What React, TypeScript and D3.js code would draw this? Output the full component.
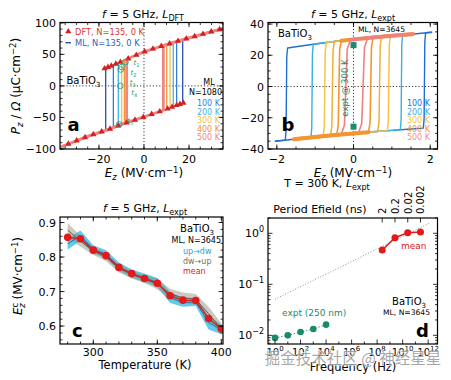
import React from 'react';
import * as d3 from 'd3';

const FONT = "'DejaVu Sans', sans-serif";

// ---------------- Panel a (L_DFT) ----------------
const upperAE = [-20, -15, -10, -5, 0, 5, 10, 15, 20, 25, 30, 35, 37];
const upperAP = [24, 31, 38.6, 46.5, 54, 60, 65.5, 71, 76, 81, 86, 91, 93];
const lowerAE = [-37, -35, -30, -25, -20, -15, -10, -5, 0, 5, 10, 15, 20];
const lowerAP = [-97, -94, -87, -80, -74, -68, -61, -55, -49, -43, -37, -30, -24];
const loopAName = ['ML, N=135, 0 K', '100 K', '200 K', '300 K', '400 K', '500 K'];
const loopAEcLeft = [-17, -13.6, -11.4, -9.9, -8.7, -7.7];
const loopAEcRight = [17.2, 14.5, 13, 11.6, 10.1, 8.6];
const loopAColor = ['#2c4fb0', '#2f7fd6', '#40b4e6', '#f2c24a', '#f39436', '#ef8585'];
const loopAWidth = [1.3, 1.3, 1.3, 1.3, 1.3, 2.8];
const dftUpE = [-17.5, -16, -14.5, -12.5, -10.5, -7, -3.4, 0.3, 4, 7.7, 11.4, 15.1, 18.8, 22.5, 26.2, 29.9, 33.6];
const dftUpP = [27.5, 29.6, 31.8, 34.8, 37.8, 43.3, 48.9, 54.4, 58.8, 63, 67, 71.1, 74.8, 78.5, 82.2, 85.9, 89.6];
const dftLowE = [-33.6, -29.9, -26.2, -22.5, -18.8, -15.1, -11.4, -7.7, -4, -0.3, 3.4, 7, 10.5, 12.5, 14.5, 16, 17.5];
const dftLowP = [-92, -86.9, -81.7, -77, -72.6, -68.1, -63, -58.2, -53.8, -49.4, -44.9, -40.6, -36.3, -33.5, -30.7, -28.8, -27];
const snapE = [-8.2, -10, -10.3, -10.5, -11];
const snapP = [38, 30, 26, 0, -61];
const snapName = ['1', '2', '3', '4', '5'];
const snapLabelOffset = [[8, 3], [9, 8], [9, 15], [11, 9], [8, -1]];
const tempLegendA = ['100 K', '200 K', '300 K', '400 K', '500 K'];

// ---------------- Panel b (L_expt) ----------------
const upperBE = [-1.9, -1.5, -1, -0.5, 0, 0.5, 1, 1.5, 2.05];
const upperBP = [24, 25.5, 27.2, 28.8, 30.2, 31.4, 32.5, 33.5, 34.8];
const lowerBE = [-2.05, -1.5, -1, -0.5, 0, 0.5, 1, 1.5, 1.9];
const lowerBP = [-35, -33.6, -32.3, -31.1, -30, -29, -28.1, -27.2, -26.5];
const loopBEcLeft = [-1.75, -1.08, -0.75, -0.55, -0.38, -0.2];
const loopBEcRight = [1.85, 1.25, 0.92, 0.68, 0.45, 0.25];
const loopBEmax = [2.05, 1.55, 1.55, 1.55, 1.55, 1.55];
const loopBSoft = [0.03, 0.03, 0.04, 0.05, 0.06, 0.12];
const loopBColor = ['#1f6fd1', '#36b0e2', '#f4c446', '#f3ad3a', '#f4952e', '#f08080'];
const loopBWidth = [1.4, 1.4, 1.5, 1.5, 1.6, 1.6];
const loopBThick = [0, 0, 0, 0, 4, 3.4];
const tempLegendB = ['100 K', '200 K', '300 K', '400 K', '500 K'];
const tempLegendBColor = ['#1f6fd1', '#36b0e2', '#f4c446', '#f4952e', '#f08a90'];
const exptE = [0, 0];
const exptP = [26.5, -25.7];

// ---------------- Panel c ----------------
const temps = [280, 290, 300, 310, 320, 330, 340, 350, 360, 370, 380, 390, 400];
const upDw = [0.838, 0.862, 0.822, 0.808, 0.772, 0.752, 0.740, 0.726, 0.683, 0.668, 0.670, 0.610, 0.590];
const upDwErr = [0.016, 0.015, 0.012, 0.012, 0.012, 0.012, 0.012, 0.013, 0.016, 0.012, 0.012, 0.02, 0.014];
const dwUp = [0.878, 0.846, 0.818, 0.800, 0.767, 0.750, 0.736, 0.722, 0.693, 0.682, 0.678, 0.636, 0.592];
const dwUpErr = [0.02, 0.016, 0.012, 0.012, 0.012, 0.012, 0.012, 0.015, 0.015, 0.015, 0.015, 0.02, 0.016];
const meanEc = [0.857, 0.853, 0.820, 0.804, 0.770, 0.752, 0.738, 0.724, 0.688, 0.675, 0.674, 0.622, 0.592];

// ---------------- Panel d ----------------
const mlFreq = [2.5e8, 2.5e9, 2.5e10, 2.5e11];
const mlEc = [0.47, 0.82, 1.03, 1.06];
const exptFreq = [1, 10, 100, 1000, 10000];
const exptEc = [0.0089, 0.0100, 0.0116, 0.0133, 0.0162];
const fitFreq = [1, 1.2e12];
const fitEc = [0.051, 1.57];
const periodNs = [2, 0.2, 0.02, 0.002];
const periodLabel = ['2', '0.2', '0.02', '0.002'];

type Pt = [number, number];

function interp(xs: number[], ys: number[], x: number) {
  const n = xs.length;
  if (x <= xs[0]) return ys[0] + (ys[1] - ys[0]) * (x - xs[0]) / (xs[1] - xs[0]);
  for (let i = 1; i < n; i++) {
    if (x <= xs[i]) {
      const t = (x - xs[i - 1]) / (xs[i] - xs[i - 1]);
      return ys[i - 1] + t * (ys[i] - ys[i - 1]);
    }
  }
  return ys[n - 1] + (ys[n - 1] - ys[n - 2]) * (x - xs[n - 1]) / (xs[n - 1] - xs[n - 2]);
}

function loopPoints(upE: number[], upP: number[], loE: number[], loP: number[], ecL: number, ecR: number, emax: number, soft: number): Pt[][] {
  const up = (e: number) => interp(upE, upP, e);
  const lo = (e: number) => interp(loE, loP, e);
  const d: Pt[] = [[emax, up(emax)]];
  for (let i = upE.length - 1; i >= 0; i--) if (upE[i] < emax && upE[i] > ecL + soft) d.push([upE[i], upP[i]]);
  {
    const pu = up(ecL + soft), pl = lo(ecL - soft), h = pu - pl;
    if (soft > 0) {
      d.push([ecL + soft, pu], [ecL + soft * 0.3, pu - h * 0.1], [ecL, (pu + pl) / 2], [ecL - soft * 0.3, pl + h * 0.1], [ecL - soft, pl]);
    } else {
      d.push([ecL, pu], [ecL, pl]);
    }
  }
  for (let i = loE.length - 1; i >= 0; i--) if (loE[i] < ecL - soft && loE[i] > -emax) d.push([loE[i], loP[i]]);
  d.push([-emax, lo(-emax)]);

  const a: Pt[] = [[-emax, lo(-emax)]];
  for (let i = 0; i < loE.length; i++) if (loE[i] > -emax && loE[i] < ecR - soft) a.push([loE[i], loP[i]]);
  {
    const pl = lo(ecR - soft), pu = up(ecR + soft), h = pu - pl;
    if (soft > 0) {
      a.push([ecR - soft, pl], [ecR - soft * 0.3, pl + h * 0.1], [ecR, (pu + pl) / 2], [ecR + soft * 0.3, pu - h * 0.1], [ecR + soft, pu]);
    } else {
      a.push([ecR, pl], [ecR, pu]);
    }
  }
  for (let i = 0; i < upE.length; i++) if (upE[i] > ecR + soft && upE[i] < emax) a.push([upE[i], upP[i]]);
  a.push([emax, up(emax)]);
  return [d, a];
}

function branchSeg(E: number[], P: number[], from: number, to: number): Pt[] {
  const pts: Pt[] = [[from, interp(E, P, from)]];
  for (let i = 0; i < E.length; i++) if (E[i] > from && E[i] < to) pts.push([E[i], P[i]]);
  pts.push([to, interp(E, P, to)]);
  return pts;
}

type Box = { x0: number; x1: number; y0: number; y1: number };

function tickPath(box: Box, xs: (v: number) => number, ys: (v: number) => number,
  xMaj: number[], xMin: number[], yMaj: number[], yMin: number[], topX = true) {
  const L = 4.5, l = 2.5;
  let p = '';
  const addX = (v: number, len: number) => {
    const px = xs(v);
    if (px < box.x0 - 0.5 || px > box.x1 + 0.5) return;
    p += `M${px},${box.y1}v${-len}`;
    if (topX) p += `M${px},${box.y0}v${len}`;
  };
  const addY = (v: number, len: number) => {
    const py = ys(v);
    if (py < box.y0 - 0.5 || py > box.y1 + 0.5) return;
    p += `M${box.x0},${py}h${len}M${box.x1},${py}h${-len}`;
  };
  xMaj.forEach(v => addX(v, L));
  xMin.forEach(v => addX(v, l));
  yMaj.forEach(v => addY(v, L));
  yMin.forEach(v => addY(v, l));
  return p;
}

const minus = (s: string) => s.replace('-', '\u2212');

export default function App() {
  // ---- boxes ----
  const bA: Box = { x0: 60, x1: 223, y0: 22.5, y1: 149 };
  const bB: Box = { x0: 268, x1: 437.5, y0: 22.5, y1: 149 };
  const bC: Box = { x0: 60, x1: 223, y0: 217, y1: 344 };
  const bD: Box = { x0: 268, x1: 437.5, y0: 218, y1: 344 };

  const ax = d3.scaleLinear().domain([-37.3, 35.1]).range([bA.x0, bA.x1]);
  const ay = d3.scaleLinear().domain([-100, 100.5]).range([bA.y1, bA.y0]);
  const bx = d3.scaleLinear().domain([-2.23, 2.19]).range([bB.x0, bB.x1]);
  const by = d3.scaleLinear().domain([-40, 41]).range([bB.y1, bB.y0]);
  const cx = d3.scaleLinear().domain([274, 401.3]).range([bC.x0, bC.x1]);
  const cy = d3.scaleLinear().domain([0.548, 0.916]).range([bC.y1, bC.y0]);
  const dx = d3.scaleLog().domain([Math.pow(10, -0.55), Math.pow(10, 12.73)]).range([bD.x0, bD.x1]);
  const dy = d3.scaleLog().domain([Math.pow(10, -2.17), Math.pow(10, 0.3)]).range([bD.y1, bD.y0]);

  const lineA = d3.line<Pt>().x(d => ax(d[0])).y(d => ay(d[1]));
  const lineB = d3.line<Pt>().x(d => bx(d[0])).y(d => by(d[1]));

  const loopsA = loopAEcLeft.map((ecL, i) => loopPoints(upperAE, upperAP, lowerAE, lowerAP, ecL, loopAEcRight[i], 37, 0));
  const loopsB = loopBEcLeft.map((ecL, i) => loopPoints(upperBE, upperBP, lowerBE, lowerBP, ecL, loopBEcRight[i], loopBEmax[i], loopBSoft[i]));

  const areaC = (vals: number[], err: number[]) => d3.area<number>()
    .x((_, i) => cx(temps[i])).y0((v, i) => cy(v - err[i])).y1((v, i) => cy(v + err[i]))(vals) || '';
  const lineC = (vals: number[]) => d3.line<number>().x((_, i) => cx(temps[i])).y(v => cy(v))(vals) || '';

  const dLine = d3.line<number>();

  const decades = [1, 1e2, 1e4, 1e6, 1e8, 1e10, 1e12];
  const decadeExp = ['0', '2', '4', '6', '8', '10', '12'];
  const oddDecades = [10, 1e3, 1e5, 1e7, 1e9, 1e11];
  const yMinD: number[] = [];
  [0.001, 0.01, 0.1, 1].forEach(b => [2, 3, 4, 5, 6, 7, 8, 9].forEach(k => yMinD.push(b * k)));

  const periodFreq = periodNs.map(p => 1 / (2 * p * 1e-9));

  const tri = d3.symbol(d3.symbolTriangle, 17)() || '';
  const tick = { stroke: '#000', strokeWidth: 0.8, fill: 'none' } as const;
  const frame = (b: Box) => <rect x={b.x0} y={b.y0} width={b.x1 - b.x0} height={b.y1 - b.y0} fill="none" stroke="#000" strokeWidth={1.2} />;

  return (
    <svg width={451} height={380} viewBox="0 0 451 380" style={{ position: 'absolute', left: 0, top: 0, background: '#fff' }} fontFamily={FONT}>
      <defs>
        <clipPath id="clipA"><rect x={bA.x0} y={bA.y0} width={bA.x1 - bA.x0} height={bA.y1 - bA.y0} /></clipPath>
        <clipPath id="clipB"><rect x={bB.x0} y={bB.y0} width={bB.x1 - bB.x0} height={bB.y1 - bB.y0} /></clipPath>
        <clipPath id="clipC"><rect x={bC.x0} y={bC.y0} width={bC.x1 - bC.x0} height={bC.y1 - bC.y0} /></clipPath>
        <clipPath id="clipD"><rect x={bD.x0} y={bD.y0} width={bD.x1 - bD.x0} height={bD.y1 - bD.y0} /></clipPath>
      </defs>
      <rect x={0} y={0} width={451} height={380} fill="#fff" />

      {/* ================= Panel a ================= */}
      <text x={143} y={18} textAnchor="middle" fontSize={11}>
        <tspan fontStyle="italic">f</tspan> = 5 GHz, <tspan fontStyle="italic">L</tspan><tspan dy={2.5} fontSize={8}>DFT</tspan>
      </text>
      <g clipPath="url(#clipA)">
        <line x1={ax(0)} x2={ax(0)} y1={bA.y0} y2={bA.y1} stroke="#000" strokeWidth={0.8} strokeDasharray="1.2,2" />
        <line x1={bA.x0} x2={bA.x1} y1={ay(0)} y2={ay(0)} stroke="#000" strokeWidth={0.8} strokeDasharray="1.2,2" />
        {loopsA.map((segs, i) => segs.map((s, j) => (
          <path key={`la${i}-${j}`} d={lineA(s) || ''} fill="none" stroke={loopAColor[i]} strokeWidth={loopAWidth[i]} strokeLinejoin="round" />
        )))}
        {dftUpE.map((e, i) => (
          <path key={`du${i}`} d={tri} transform={`translate(${ax(e)},${ay(dftUpP[i])})`} fill="#d42020" />
        ))}
        {dftLowE.map((e, i) => (
          <path key={`dl${i}`} d={tri} transform={`translate(${ax(e)},${ay(dftLowP[i])})`} fill="#d42020" />
        ))}
        {snapE.map((e, i) => (
          <g key={`sn${i}`}>
            <circle cx={ax(e)} cy={ay(snapP[i])} r={2.8} fill="none" stroke="#2f9a78" strokeWidth={0.9} />
            <text x={ax(e) + snapLabelOffset[i][0]} y={ay(snapP[i]) + snapLabelOffset[i][1]} fontSize={7} fill="#2f9a78">
              <tspan fontStyle="italic">t</tspan><tspan dy={2} fontSize={5}>{snapName[i]}</tspan>
            </text>
          </g>
        ))}
      </g>
      {frame(bA)}
      <path d={tickPath(bA, ax, ay, [-20, 0, 20], d3.range(-35, 36, 5), [-100, -50, 0, 50, 100], d3.range(-100, 101, 10))} {...tick} />
      {[-100, -50, 0, 50, 100].map(v => (
        <text key={`ayl${v}`} x={bA.x0 - 4} y={ay(v) + 4} textAnchor="end" fontSize={11}>{minus(String(v))}</text>
      ))}
      {[-20, 0, 20].map(v => (
        <text key={`axl${v}`} x={ax(v)} y={163} textAnchor="middle" fontSize={11}>{minus(String(v))}</text>
      ))}
      <text x={144} y={177} textAnchor="middle" fontSize={12}>
        <tspan fontStyle="italic">E</tspan><tspan dy={3} fontSize={8.5} fontStyle="italic">z</tspan><tspan dy={-3}> (MV·cm</tspan><tspan dy={-4.5} fontSize={8.5}>−1</tspan><tspan dy={4.5}>)</tspan>
      </text>
      <text transform="translate(20,86) rotate(-90)" textAnchor="middle" fontSize={12}>
        <tspan fontStyle="italic">P</tspan><tspan dy={3} fontSize={8.5} fontStyle="italic">z</tspan><tspan dy={-3}> / </tspan><tspan fontStyle="italic">Ω</tspan><tspan> (μC·cm</tspan><tspan dy={-4.5} fontSize={8.5}>−2</tspan><tspan dy={4.5}>)</tspan>
      </text>
      {/* legend a */}
      <path d={tri} transform="translate(68.3,31.5)" fill="#d42020" />
      <text x={75} y={34.5} fontSize={8.3} fill="#d43a3a">DFT, N=135, 0 K</text>
      <line x1={65.5} x2={71} y1={42.7} y2={42.7} stroke={loopAColor[0]} strokeWidth={1.4} />
      <text x={75} y={45.7} fontSize={8.3} fill="#3a5cc0">{loopAName[0]}</text>
      <text x={66.5} y={84} fontSize={10}>BaTiO<tspan dy={2.5} fontSize={7}>3</tspan></text>
      <text x={209} y={85.3} textAnchor="middle" fontSize={8}>ML</text>
      <text x={222} y={95.3} textAnchor="end" fontSize={8}>N=1080</text>
      {tempLegendA.map((t, i) => (
        <text key={`tla${i}`} x={220} y={106 + i * 8.6} textAnchor="end" fontSize={8} fill={loopAColor[i + 1]}>{t}</text>
      ))}
      <text x={67.5} y={131} fontSize={18} fontWeight="bold">a</text>

      {/* ================= Panel b ================= */}
      <text x={353} y={18} textAnchor="middle" fontSize={11}>
        <tspan fontStyle="italic">f</tspan> = 5 GHz, <tspan fontStyle="italic">L</tspan><tspan dy={2.5} fontSize={8}>expt</tspan>
      </text>
      <g clipPath="url(#clipB)">
        <line x1={bx(0)} x2={bx(0)} y1={bB.y0} y2={bB.y1} stroke="#000" strokeWidth={0.8} strokeDasharray="1.2,2" />
        <line x1={bB.x0} x2={bB.x1} y1={by(0)} y2={by(0)} stroke="#000" strokeWidth={0.8} strokeDasharray="1.2,2" />
        {loopsB.map((segs, i) => segs.map((s, j) => (
          <path key={`lb${i}-${j}`} d={lineB(s) || ''} fill="none" stroke={loopBColor[i]} strokeWidth={loopBWidth[i]} strokeLinejoin="round" />
        )))}
        {[5, 4].map(i => (
          <path key={`tbl${i}`} d={lineB(branchSeg(lowerBE, lowerBP, -loopBEmax[i], loopBEcRight[i] - loopBSoft[i])) || ''} fill="none" stroke={loopBColor[i]} strokeWidth={loopBThick[i]} strokeLinecap="round" />
        ))}
        {[4, 5].map(i => (
          <path key={`tbu${i}`} d={lineB(branchSeg(upperBE, upperBP, loopBEcLeft[i] + loopBSoft[i], loopBEmax[i])) || ''} fill="none" stroke={loopBColor[i]} strokeWidth={loopBThick[i]} strokeLinecap="round" />
        ))}
        {exptE.map((e, i) => (
          <rect key={`ex${i}`} x={bx(e) - 3} y={by(exptP[i]) - 3} width={6} height={6} fill="#1e8a6e" />
        ))}
      </g>
      {frame(bB)}
      <path d={tickPath(bB, bx, by, [-2, 0, 2], d3.range(-2, 2.01, 0.5), [-40, -20, 0, 20, 40], d3.range(-40, 41, 5))} {...tick} />
      {[-40, -20, 0, 20, 40].map(v => (
        <text key={`byl${v}`} x={bB.x0 - 4} y={by(v) + 4} textAnchor="end" fontSize={11}>{minus(String(v))}</text>
      ))}
      {[-2, 0, 2].map(v => (
        <text key={`bxl${v}`} x={bx(v)} y={163} textAnchor="middle" fontSize={11}>{minus(String(v))}</text>
      ))}
      <text x={353} y={177} textAnchor="middle" fontSize={12}>
        <tspan fontStyle="italic">E</tspan><tspan dy={3} fontSize={8.5} fontStyle="italic">z</tspan><tspan dy={-3}> (MV·cm</tspan><tspan dy={-4.5} fontSize={8.5}>−1</tspan><tspan dy={4.5}>)</tspan>
      </text>
      <text x={278} y={37} fontSize={10}>BaTiO<tspan dy={2.5} fontSize={7}>3</tspan></text>
      <text x={358} y={32} fontSize={7.6}>ML, N=3645</text>
      {tempLegendB.map((t, i) => (
        <text key={`tlb${i}`} x={430} y={106.3 + i * 8.4} textAnchor="end" fontSize={8} fill={tempLegendBColor[i]}>{t}</text>
      ))}
      <text transform="translate(347.5,88) rotate(-90)" textAnchor="middle" fontSize={8.5} fill="#1e8a6e">expt @ 300 K</text>
      <text x={281.5} y={131} fontSize={18} fontWeight="bold">b</text>

      {/* ================= Panel c ================= */}
      <text x={145} y={212} textAnchor="middle" fontSize={11}>
        <tspan fontStyle="italic">f</tspan> = 5 GHz, <tspan fontStyle="italic">L</tspan><tspan dy={2.5} fontSize={8}>expt</tspan>
      </text>
      <g clipPath="url(#clipC)">
        <path d={areaC(upDw, upDwErr)} fill="#3fbde3" fillOpacity={0.8} />
        <path d={areaC(dwUp, dwUpErr)} fill="#8a8a74" fillOpacity={0.45} />
        <path d={lineC(upDw)} fill="none" stroke="#1f72a8" strokeWidth={1} />
        <path d={lineC(dwUp)} fill="none" stroke="#5e5e4c" strokeWidth={1} />
        <path d={lineC(meanEc)} fill="none" stroke="#d81e1e" strokeWidth={1.4} />
        {meanEc.map((v, i) => (
          <circle key={`mc${i}`} cx={cx(temps[i])} cy={cy(v)} r={3.8} fill="#e31a1c" />
        ))}
      </g>
      {frame(bC)}
      <path d={tickPath(bC, cx, cy, [300, 350, 400], d3.range(280, 401, 10), [0.6, 0.7, 0.8, 0.9], d3.range(0.56, 0.915, 0.02))} {...tick} />
      {[0.6, 0.7, 0.8, 0.9].map(v => (
        <text key={`cyl${v}`} x={bC.x0 - 4} y={cy(v) + 4} textAnchor="end" fontSize={11}>{v.toFixed(1)}</text>
      ))}
      {[300, 350, 400].map(v => (
        <text key={`cxl${v}`} x={cx(v)} y={356} textAnchor="middle" fontSize={11}>{v}</text>
      ))}
      <text x={145} y={369} textAnchor="middle" fontSize={11.5}>Temperature (K)</text>
      <text transform="translate(22,276) rotate(-90)" textAnchor="middle" fontSize={12}>
        <tspan fontStyle="italic">E</tspan><tspan dy={-4.5} fontSize={8.5}>c</tspan><tspan dx={-5} dy={7.5} fontSize={8.5} fontStyle="italic">z</tspan><tspan dy={-3}> (MV·cm</tspan><tspan dy={-4.5} fontSize={8.5}>−1</tspan><tspan dy={4.5}>)</tspan>
      </text>
      <text x={214} y={232} textAnchor="end" fontSize={10}>BaTiO<tspan dy={2.5} fontSize={7}>3</tspan></text>
      <text x={221} y={243} textAnchor="end" fontSize={8}>ML, N=3645</text>
      <text x={183} y={254} fontSize={8} fill="#1fa0d0">up→dw</text>
      <text x={183} y={264} fontSize={8} fill="#707060">dw→up</text>
      <text x={183} y={273.5} fontSize={8} fill="#e02020">mean</text>
      <text x={72} y={337} fontSize={18} fontWeight="bold">c</text>

      {/* ================= Panel d ================= */}
      <text x={327} y={187} textAnchor="middle" fontSize={11}>
        T = 300 K, <tspan fontStyle="italic">L</tspan><tspan dy={2.5} fontSize={8}>expt</tspan>
      </text>
      <text x={320} y={213} textAnchor="middle" fontSize={11}>Period Efield (ns)</text>
      {periodFreq.map((f, i) => (
        <text key={`pl${i}`} transform={`translate(${dx(f) + 3.8},${214}) rotate(-90)`} fontSize={10}>{periodLabel[i]}</text>
      ))}
      <g clipPath="url(#clipD)">
        <path d={dLine([[dx(fitFreq[0]), dy(fitEc[0])], [dx(fitFreq[1]), dy(fitEc[1])]]) || ''} stroke="#777" strokeWidth={0.8} strokeDasharray="1,1.8" fill="none" />
        <path d={d3.line<number>().x((_, i) => dx(exptFreq[i])).y(v => dy(v))(exptEc) || ''} stroke="#1b8a6b" strokeWidth={1} strokeDasharray="1.2,2" fill="none" />
        {exptEc.map((v, i) => (
          <circle key={`ge${i}`} cx={dx(exptFreq[i])} cy={dy(v)} r={3.3} fill="#1b8a6b" />
        ))}
        <path d={d3.line<number>().x((_, i) => dx(mlFreq[i])).y(v => dy(v))(mlEc) || ''} stroke="#d81e1e" strokeWidth={1.5} fill="none" />
        {mlEc.map((v, i) => (
          <circle key={`rm${i}`} cx={dx(mlFreq[i])} cy={dy(v)} r={3.5} fill="#e31a1c" />
        ))}
      </g>
      {frame(bD)}
      <path d={tickPath(bD, dx, dy, decades, oddDecades, [0.01, 0.1, 1], yMinD, false)} {...tick} />
      <path d={periodFreq.map(f => `M${dx(f)},${bD.y0}v4.5`).join('')} {...tick} />
      {[0.01, 0.1, 1].map((v, i) => (
        <text key={`dyl${i}`} x={bD.x0 - 4} y={dy(v) + 4} textAnchor="end" fontSize={11}>
          10<tspan dy={-5} fontSize={8}>{['−2', '−1', '0'][i]}</tspan>
        </text>
      ))}
      {decades.map((v, i) => (
        <text key={`dxl${i}`} x={dx(v)} y={356} textAnchor="middle" fontSize={10}>
          10<tspan dy={-5} fontSize={7}>{decadeExp[i]}</tspan>
        </text>
      ))}
      <text x={353} y={371} textAnchor="middle" fontSize={11.5}>Frequency (Hz)</text>
      <text x={401} y={249} fontSize={9} fill="#e02020">mean</text>
      <text x={282} y={316} fontSize={9} fill="#1b8a6b">expt (250 nm)</text>
      <text x={426} y={305} textAnchor="end" fontSize={10}>BaTiO<tspan dy={2.5} fontSize={7}>3</tspan></text>
      <text x={430} y={315} textAnchor="end" fontSize={7.6}>ML, N=3645</text>
      <text x={416} y={337} fontSize={18} fontWeight="bold">d</text>

      {/* watermark */}
      <text x={353} y={364} textAnchor="middle" fontSize={15.5} fontFamily="'Noto Sans CJK SC', sans-serif" fill="#8a8a8a" fillOpacity={0.75} stroke="#fff" strokeWidth={0.6} paintOrder="stroke">掘金技术社区 @ 神经星星</text>
    </svg>
  );
}
